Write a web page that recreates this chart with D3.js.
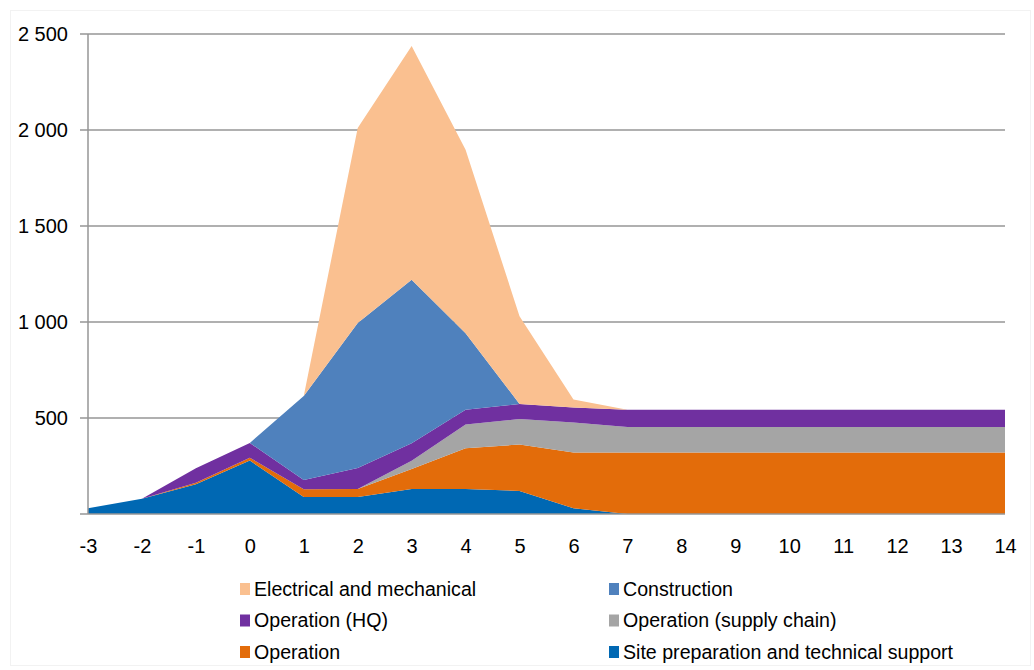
<!DOCTYPE html>
<html>
<head>
<meta charset="utf-8">
<script src="https://cdnjs.cloudflare.com/ajax/libs/d3/7.8.5/d3.min.js"></script>
<style>
  body { margin: 0; background: #fff; }
  text { font-family: "Liberation Sans", Arial, sans-serif; }
</style>
</head>
<body>
<svg id="chart" width="1034" height="670"></svg>
<script>
// years relative to start
var years = [-3, -2, -1, 0, 1, 2, 3, 4, 5, 6, 7, 8, 9, 10, 11, 12, 13, 14]

// series, bottom of the stack first
var sitePrep     = [30, 80, 155, 278, 88, 88, 130, 130, 120, 30, 0, 0, 0, 0, 0, 0, 0, 0]
var operation    = [0, 0, 8, 15, 41, 42, 104, 213, 242, 290, 320, 320, 320, 320, 320, 320, 320, 320]
var supplyChain  = [0, 0, 0, 0, 0, 0, 43, 123, 133, 157, 133, 133, 133, 133, 133, 133, 133, 133]
var operationHQ  = [0, 0, 75, 77, 48, 110, 92, 77, 78, 78, 90, 90, 90, 90, 90, 90, 90, 90]
var construction = [0, 0, 0, 0, 438, 755, 851, 399, 0, 0, 0, 0, 0, 0, 0, 0, 0, 0]
var electrical   = [0, 0, 0, 0, 0, 1015, 1218, 955, 457, 41, 0, 0, 0, 0, 0, 0, 0, 0]

var yTicks = [500, 1000, 1500, 2000, 2500]

var seriesKeys = ['site', 'op', 'supply', 'hq', 'constr', 'elec']
var seriesNames = {
  site: 'Site preparation and technical support',
  op: 'Operation',
  supply: 'Operation (supply chain)',
  hq: 'Operation (HQ)',
  constr: 'Construction',
  elec: 'Electrical and mechanical'
}
var colors = {
  site: '#0068b3',
  op: '#e36c0a',
  supply: '#a5a5a5',
  hq: '#7030a0',
  constr: '#4f81bd',
  elec: '#fac090'
}

function drawChart() {
  var rows = years.map(function(yr, i) {
    return {
      year: yr,
      site: sitePrep[i],
      op: operation[i],
      supply: supplyChain[i],
      hq: operationHQ[i],
      constr: construction[i],
      elec: electrical[i]
    }
  })

  var svg = d3.select('#chart')
  var plotLeft = 88, plotRight = 1005, plotTop = 34, plotBottom = 514

  var x = d3.scaleLinear().domain([-3, 14]).range([plotLeft, plotRight])
  var y = d3.scaleLinear().domain([0, 2500]).range([plotBottom, plotTop])

  // faint outer frame
  svg.append('rect')
    .attr('x', 10.5).attr('y', 10.5)
    .attr('width', 1020).attr('height', 655)
    .attr('fill', 'none')
    .attr('stroke', '#f2f2f2')

  // grid lines
  svg.append('g')
    .selectAll('line')
    .data(yTicks)
    .enter()
    .append('line')
    .attr('x1', plotLeft - 8)
    .attr('x2', plotRight)
    .attr('y1', (d) => y(d))
    .attr('y2', (d) => y(d))
    .attr('stroke', '#969696')
    .attr('stroke-width', 1.5)

  var layers = d3.stack().keys(seriesKeys)(rows)

  var area = d3.area()
    .x((d) => x(d.data.year))
    .y0((d) => y(d[0]))
    .y1((d) => y(d[1]))

  svg.append('g')
    .selectAll('path')
    .data(layers)
    .enter()
    .append('path')
    .attr('d', area)
    .attr('fill', (d) => colors[d.key])

  // y axis
  var yAxis = d3.axisLeft(y)
    .tickValues(yTicks)
    .tickSize(0)
    .tickFormat((d) => d3.format(',')(d).replace(',', ' '))

  var yg = svg.append('g')
    .attr('transform', 'translate(' + plotLeft + ',0)')
    .call(yAxis)
  yg.select('.domain').attr('stroke', '#969696').attr('stroke-width', 1.5)
    .attr('d', 'M0,' + plotTop + 'V' + plotBottom)
  yg.selectAll('.tick text')
    .attr('x', -20)
    .attr('font-size', 20)
    .attr('fill', '#000')
    .attr('font-family', '"Liberation Sans", Arial, sans-serif')

  // x axis
  var xAxis = d3.axisBottom(x)
    .tickValues(years)
    .tickSize(0)
    .tickFormat((d) => String(d))

  var xg = svg.append('g')
    .attr('transform', 'translate(0,' + plotBottom + ')')
    .call(xAxis)
  xg.select('.domain').attr('stroke', '#969696').attr('stroke-width', 1.5)
    .attr('d', 'M' + (plotLeft - 8) + ',0H' + plotRight)
  xg.selectAll('.tick text')
    .attr('y', 25)
    .attr('font-size', 20)
    .attr('fill', '#000')
    .attr('font-family', '"Liberation Sans", Arial, sans-serif')

  // legend
  var legendOrder = ['elec', 'constr', 'hq', 'supply', 'op', 'site']
  var legend = svg.append('g')
    .selectAll('g')
    .data(legendOrder)
    .enter()
    .append('g')
    .attr('transform', (d, i) => 'translate(' + (i % 2 == 0 ? 240 : 609) + ',' + (589 + Math.floor(i / 2) * 31.5) + ')')

  legend.append('rect')
    .attr('x', 0).attr('y', -6)
    .attr('width', 10).attr('height', 12)
    .attr('fill', (d) => colors[d])

  legend.append('text')
    .attr('x', 14)
    .attr('y', 0)
    .attr('dy', '0.35em')
    .attr('font-size', 19.6)
    .attr('fill', '#000')
    .text((d) => seriesNames[d])
}

drawChart()
</script>
</body>
</html>
